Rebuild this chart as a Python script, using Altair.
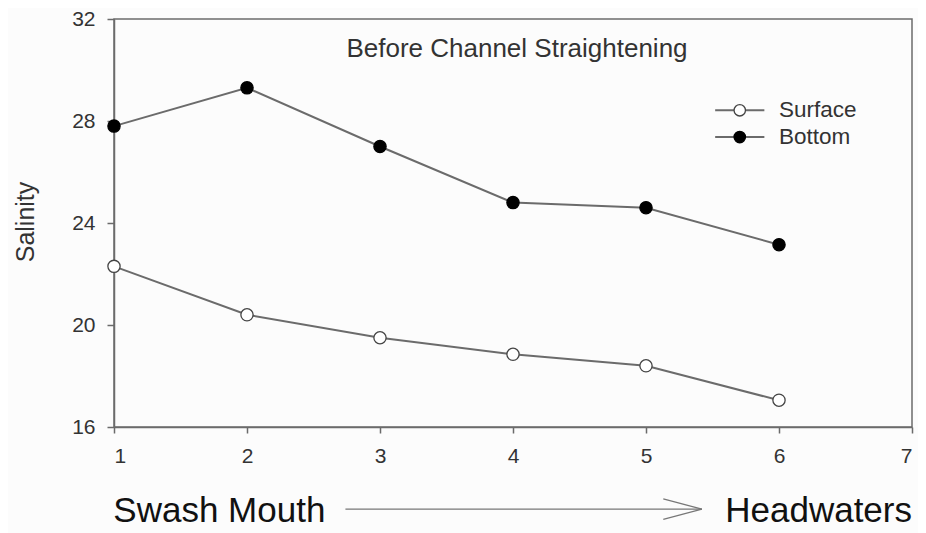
import altair as alt
import pandas as pd

stations = [1, 2, 3, 4, 5, 6]
surface = [22.3, 20.4, 19.5, 18.85, 18.4, 17.05]
bottom = [27.8, 29.3, 27.0, 24.8, 24.6, 23.15]
series_names = ["Surface", "Bottom"]
y_ticks = [16, 20, 24, 28, 32]
x_ticks = [1, 2, 3, 4, 5, 6, 7]

FONT = "Liberation Sans"
LINE = "#6b6b6b"

df = pd.DataFrame(
    [{"station": s, "salinity": v, "series": "Surface"} for s, v in zip(stations, surface)]
    + [{"station": s, "salinity": v, "series": "Bottom"} for s, v in zip(stations, bottom)]
)

xs = alt.Scale(domain=[1, 7], nice=False, zero=False)
ys = alt.Scale(domain=[16, 32], nice=False, zero=False, clamp=False)

xax = alt.Axis(values=x_ticks, format="d", title=None, labelFont=FONT, labelFontSize=21,
               labelColor="#333", tickColor=LINE, domainColor=LINE, tickSize=6,
               domainWidth=1.5, tickWidth=1.5, grid=False, labelPadding=12)
yax = alt.Axis(values=y_ticks, format="d", title=None, labelFont=FONT, labelFontSize=21,
               labelColor="#333", tickColor=LINE, domainColor=LINE, tickSize=7,
               domainWidth=1.5, tickWidth=1.5, grid=False, labelPadding=12)

fill_scale = alt.Scale(domain=series_names, range=["white", "black"])
stroke_scale = alt.Scale(domain=series_names, range=["#444", "black"])

base = alt.Chart(df)

lines = base.mark_line(color=LINE, strokeWidth=2).encode(
    x=alt.X("station:Q", scale=xs, axis=xax),
    y=alt.Y("salinity:Q", scale=ys, axis=yax),
    detail="series:N",
)

pts = base.mark_point(filled=False, size=150, strokeWidth=1.3, opacity=1).encode(
    x=alt.X("station:Q", scale=xs),
    y=alt.Y("salinity:Q", scale=ys),
    fill=alt.Fill("series:N", scale=fill_scale, legend=None),
    stroke=alt.Stroke("series:N", scale=stroke_scale, legend=None),
)

# legend
leg_y = [28.42, 27.37]
leg_df = pd.DataFrame({"series": series_names, "y": leg_y, "x1": [5.52, 5.52], "x2": [5.89, 5.89],
                       "xm": [5.705, 5.705], "xt": [6.0, 6.0]})
leg_base = alt.Chart(leg_df)
leg_rule = leg_base.mark_rule(color=LINE, strokeWidth=2).encode(
    x=alt.X("x1:Q", scale=xs), x2="x2:Q", y=alt.Y("y:Q", scale=ys))
leg_pts = leg_base.mark_point(filled=False, size=130, strokeWidth=1.3, opacity=1).encode(
    x=alt.X("xm:Q", scale=xs), y=alt.Y("y:Q", scale=ys),
    fill=alt.Fill("series:N", scale=fill_scale, legend=None),
    stroke=alt.Stroke("series:N", scale=stroke_scale, legend=None),
)
leg_txt = leg_base.mark_text(align="left", baseline="middle", font=FONT, fontSize=22.5, color="#333").encode(
    x=alt.X("xt:Q", scale=xs), y=alt.Y("y:Q", scale=ys), text="series:N")

# title inside plot
title_df = pd.DataFrame({"x": [4.03], "y": [30.83], "t": ["Before Channel Straightening"]})
title = alt.Chart(title_df).mark_text(font=FONT, fontSize=26, color="#333", baseline="middle").encode(
    x=alt.X("x:Q", scale=xs), y=alt.Y("y:Q", scale=ys), text="t:N")

# y axis title
ytitle = alt.Chart(pd.DataFrame({"t": ["Salinity"]})).mark_text(
    font=FONT, fontSize=25, color="#333", angle=270, baseline="middle", align="center").encode(
    x=alt.value(-88), y=alt.value(203), text="t:N")

# bottom annotation (below the plot, in data units of the same scales)
bottom_df = pd.DataFrame({"x": [0.995, 7.0], "y": [12.70, 12.70], "t": ["Swash Mouth", "Headwaters"]})
swash = alt.Chart(bottom_df.iloc[[0]]).mark_text(font=FONT, fontSize=35, color="#111", align="left",
                                                 baseline="middle").encode(
    x=alt.X("x:Q", scale=xs), y=alt.Y("y:Q", scale=ys), text="t:N")
head = alt.Chart(bottom_df.iloc[[1]]).mark_text(font=FONT, fontSize=35, color="#111", align="right",
                                                baseline="middle").encode(
    x=alt.X("x:Q", scale=xs), y=alt.Y("y:Q", scale=ys), text="t:N")

arrow_df = pd.DataFrame({"x1": [2.74, 5.13, 5.13], "x2": [5.42, 5.42, 5.42],
                         "y1": [12.78, 13.18, 12.38], "y2": [12.78, 12.78, 12.78]})
arrow = alt.Chart(arrow_df).mark_rule(color="#777", strokeWidth=1.2).encode(
    x=alt.X("x1:Q", scale=xs), x2="x2:Q",
    y=alt.Y("y1:Q", scale=ys), y2="y2:Q")

chart = alt.layer(lines, pts, leg_rule, leg_pts, leg_txt, title, ytitle, swash, head, arrow).properties(
    width=798, height=408,
    autosize=alt.AutoSizeParams(type="none"),
    padding={"left": 106, "top": 11, "right": 6, "bottom": 106},
    background="#fcfcfc",
).configure_view(stroke=LINE, strokeWidth=1.5)

chart.save("out.html", embed_options={"renderer": "svg", "actions": False})
